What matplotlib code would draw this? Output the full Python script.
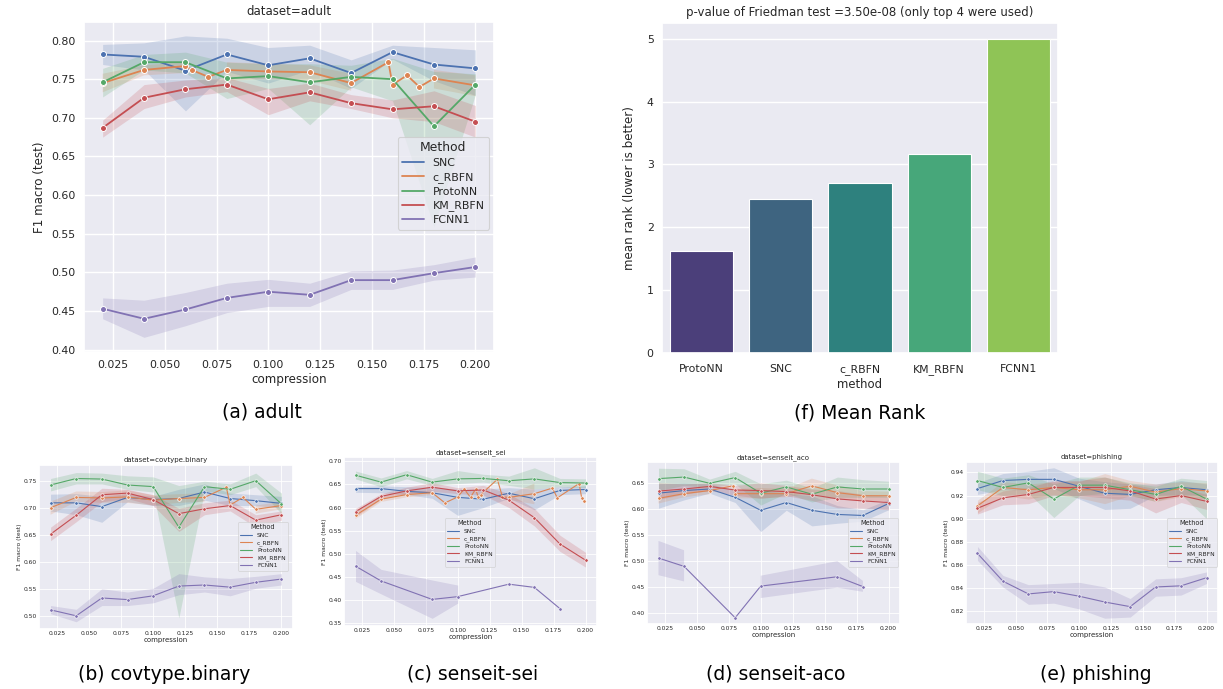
import numpy as np
import matplotlib
matplotlib.use("Agg")
import matplotlib.pyplot as plt
from matplotlib.lines import Line2D
import seaborn as sns

sns.set_theme(style="darkgrid")
plt.rcParams['font.family'] = ['DejaVu Sans']

nan = float('nan')
methods = ['SNC', 'c_RBFN', 'ProtoNN', 'KM_RBFN', 'FCNN1']
X = [0.02, 0.04, 0.06, 0.08, 0.10, 0.12, 0.14, 0.16, 0.18, 0.20]

# ---------------- adult ----------------
adult_snc = [0.782, 0.779, 0.761, 0.782, 0.768, 0.777, 0.758, 0.785, 0.769, 0.764]
adult_snc_lo = [0.769, 0.762, 0.709, 0.760, 0.745, 0.762, 0.738, 0.776, 0.748, 0.729]
adult_snc_hi = [0.795, 0.797, 0.806, 0.803, 0.791, 0.794, 0.775, 0.794, 0.791, 0.788]
adult_crbfn_x = [0.02, 0.04, 0.06, 0.063, 0.071, 0.08, 0.10, 0.12, 0.14, 0.158, 0.16, 0.167, 0.173, 0.18, 0.20]
adult_crbfn = [0.745, 0.762, 0.767, 0.762, 0.753, 0.762, 0.760, 0.759, 0.745, 0.772, 0.743, 0.755, 0.740, 0.751, 0.742]
adult_crbfn_lo = [0.733, 0.755, 0.758, nan, nan, 0.748, 0.750, 0.748, 0.735, nan, nan, nan, nan, 0.738, 0.728]
adult_crbfn_hi = [0.757, 0.768, 0.772, nan, nan, 0.772, 0.770, 0.768, 0.757, nan, nan, nan, nan, 0.762, 0.755]
adult_proto = [0.746, 0.772, 0.772, 0.751, 0.754, 0.746, 0.753, 0.750, 0.689, 0.743]
adult_proto_lo = [0.727, 0.762, 0.758, 0.725, 0.738, 0.691, 0.740, 0.722, 0.559, 0.730]
adult_proto_hi = [0.764, 0.782, 0.785, 0.772, 0.770, 0.770, 0.768, 0.777, 0.760, 0.757]
adult_km = [0.687, 0.726, 0.737, 0.743, 0.724, 0.733, 0.719, 0.711, 0.715, 0.695]
adult_km_lo = [0.675, 0.712, 0.727, 0.734, 0.704, 0.722, 0.712, 0.700, 0.695, 0.675]
adult_km_hi = [0.697, 0.743, 0.749, 0.752, 0.738, 0.745, 0.730, 0.723, 0.735, 0.716]
adult_fcnn = [0.453, 0.440, 0.452, 0.467, 0.475, 0.471, 0.490, 0.490, 0.499, 0.507]
adult_fcnn_lo = [0.440, 0.416, 0.431, 0.448, 0.456, 0.456, 0.478, 0.478, 0.490, 0.494]
adult_fcnn_hi = [0.467, 0.464, 0.474, 0.486, 0.491, 0.486, 0.502, 0.503, 0.510, 0.520]

# ---------------- covtype.binary ----------------
cov_snc = [0.710, 0.710, 0.703, 0.720, 0.716, 0.718, 0.730, 0.718, 0.714, 0.709]
cov_snc_lo = [0.695, 0.688, 0.674, 0.712, 0.705, 0.705, 0.715, 0.705, 0.705, 0.700]
cov_snc_hi = [0.726, 0.727, 0.722, 0.727, 0.722, 0.735, 0.745, 0.728, 0.725, 0.722]
cov_crbfn_x = [0.02, 0.04, 0.06, 0.08, 0.10, 0.12, 0.14, 0.157, 0.16, 0.17, 0.18, 0.20]
cov_crbfn = [0.701, 0.720, 0.719, 0.721, 0.715, 0.718, 0.720, 0.739, 0.706, 0.720, 0.698, 0.705]
cov_crbfn_lo = [0.688, 0.712, 0.710, 0.710, 0.705, 0.710, 0.712, nan, nan, nan, 0.690, 0.698]
cov_crbfn_hi = [0.712, 0.731, 0.730, 0.733, 0.724, 0.726, 0.728, nan, nan, nan, 0.705, 0.712]
cov_proto = [0.743, 0.755, 0.754, 0.743, 0.740, 0.665, 0.740, 0.735, 0.751, 0.708]
cov_proto_lo = [0.732, 0.745, 0.745, 0.735, 0.730, 0.497, 0.732, 0.725, 0.740, 0.690]
cov_proto_hi = [0.755, 0.766, 0.765, 0.760, 0.758, 0.742, 0.750, 0.745, 0.765, 0.728]
cov_km = [0.652, 0.687, 0.725, 0.728, 0.716, 0.690, 0.699, 0.705, 0.678, 0.688]
cov_km_lo = [0.640, 0.675, 0.712, 0.718, 0.705, 0.657, 0.688, 0.695, 0.665, 0.678]
cov_km_hi = [0.665, 0.700, 0.737, 0.735, 0.725, 0.700, 0.710, 0.715, 0.688, 0.695]
cov_fcnn = [0.512, 0.501, 0.534, 0.531, 0.538, 0.556, 0.558, 0.554, 0.563, 0.569]
cov_fcnn_lo = [0.505, 0.490, 0.520, 0.520, 0.525, 0.540, 0.545, 0.538, 0.552, 0.558]
cov_fcnn_hi = [0.520, 0.513, 0.551, 0.545, 0.552, 0.579, 0.573, 0.570, 0.574, 0.579]

# ---------------- senseit_sei ----------------
sei_snc = [0.641, 0.641, 0.635, 0.632, 0.622, 0.618, 0.631, 0.619, 0.637, 0.639]
sei_snc_lo = [0.633, 0.632, 0.628, 0.620, 0.583, 0.600, 0.620, 0.595, 0.628, 0.630]
sei_snc_hi = [0.645, 0.647, 0.645, 0.644, 0.640, 0.640, 0.643, 0.640, 0.645, 0.647]
sei_crbfn_x = [0.02, 0.04, 0.06, 0.08, 0.09, 0.10, 0.105, 0.11, 0.114, 0.116, 0.118,
               0.131, 0.135, 0.14, 0.16, 0.174, 0.178, 0.195, 0.197, 0.199]
sei_crbfn = [0.583, 0.618, 0.628, 0.632, 0.610, 0.623, 0.640, 0.622, 0.640, 0.623, 0.628,
             0.661, 0.623, 0.622, 0.630, 0.642, 0.621, 0.652, 0.621, 0.615]
sei_crbfn_lo = [0.575, 0.612, 0.622, 0.627, nan, nan, nan, nan, nan, nan, nan,
                nan, nan, 0.617, 0.607, nan, nan, nan, nan, nan]
sei_crbfn_hi = [0.592, 0.625, 0.634, 0.637, nan, nan, nan, nan, nan, nan, nan,
                nan, nan, 0.628, 0.652, nan, nan, nan, nan, nan]
sei_proto = [0.670, 0.655, 0.671, 0.655, 0.662, 0.663, 0.658, 0.662, 0.654, 0.653]
sei_proto_lo = [0.662, 0.645, 0.662, 0.648, 0.652, 0.655, 0.648, 0.640, 0.645, 0.643]
sei_proto_hi = [0.679, 0.664, 0.680, 0.663, 0.680, 0.672, 0.668, 0.686, 0.663, 0.662]
sei_km = [0.591, 0.624, 0.636, 0.644, 0.636, 0.638, 0.616, 0.578, 0.521, 0.486]
sei_km_lo = [0.580, 0.618, 0.630, 0.635, 0.630, 0.627, 0.600, 0.560, 0.505, 0.471]
sei_km_hi = [0.598, 0.630, 0.644, 0.654, 0.643, 0.648, 0.630, 0.598, 0.540, 0.503]
sei_fcnn_x = [0.02, 0.04, 0.08, 0.10, 0.14, 0.16, 0.18]
sei_fcnn = [0.473, 0.441, 0.401, 0.407, 0.434, 0.427, 0.381]
sei_fcnn_lo = [0.440, 0.413, 0.360, 0.393, nan, nan, nan]
sei_fcnn_hi = [0.507, 0.466, 0.443, 0.432, nan, nan, nan]

# ---------------- senseit_aco ----------------
aco_snc = [0.630, 0.635, 0.638, 0.622, 0.597, 0.612, 0.597, 0.589, 0.587, 0.610]
aco_snc_lo = [0.601, 0.617, 0.630, 0.612, 0.556, 0.597, 0.567, 0.572, 0.576, 0.598]
aco_snc_hi = [0.648, 0.650, 0.648, 0.636, 0.635, 0.630, 0.625, 0.606, 0.598, 0.618]
aco_crbfn_x = [0.02, 0.04, 0.06, 0.078, 0.08, 0.10, 0.12, 0.14, 0.16, 0.18, 0.20]
aco_crbfn = [0.620, 0.629, 0.635, 0.644, 0.629, 0.629, 0.629, 0.644, 0.631, 0.625, 0.625]
aco_crbfn_lo = [0.610, 0.622, 0.628, nan, 0.620, 0.620, 0.622, 0.630, 0.618, 0.615, 0.615]
aco_crbfn_hi = [0.632, 0.637, 0.642, nan, 0.638, 0.640, 0.638, 0.658, 0.645, 0.634, 0.633]
aco_proto = [0.658, 0.661, 0.649, 0.660, 0.630, 0.642, 0.628, 0.642, 0.638, 0.638]
aco_proto_lo = [0.635, 0.645, 0.641, 0.648, 0.607, 0.630, 0.613, 0.622, 0.622, 0.622]
aco_proto_hi = [0.678, 0.677, 0.657, 0.672, 0.648, 0.655, 0.640, 0.661, 0.656, 0.653]
aco_km = [0.634, 0.638, 0.643, 0.636, 0.635, 0.633, 0.627, 0.619, 0.615, 0.612]
aco_km_lo = [0.618, 0.628, 0.635, 0.626, 0.620, 0.625, 0.616, 0.602, 0.601, 0.598]
aco_km_hi = [0.650, 0.648, 0.650, 0.645, 0.650, 0.645, 0.638, 0.635, 0.628, 0.624]
aco_fcnn_x = [0.02, 0.04, 0.08, 0.10, 0.16, 0.18]
aco_fcnn = [0.505, 0.489, 0.390, 0.451, 0.469, 0.450]
aco_fcnn_lo = [0.472, 0.460, nan, 0.428, 0.448, 0.440]
aco_fcnn_hi = [0.538, 0.520, nan, 0.471, 0.499, 0.461]

# ---------------- phishing ----------------
phi_snc = [0.926, 0.933, 0.934, 0.934, 0.928, 0.922, 0.921, 0.925, 0.927, 0.925]
phi_snc_lo = [0.921, 0.925, 0.925, 0.926, 0.917, 0.908, 0.909, 0.920, 0.921, 0.920]
phi_snc_hi = [0.931, 0.939, 0.941, 0.944, 0.935, 0.932, 0.930, 0.930, 0.933, 0.930]
phi_crbfn = [0.911, 0.927, 0.925, 0.927, 0.925, 0.925, 0.928, 0.923, 0.926, 0.924]
phi_crbfn_lo = [0.905, 0.920, 0.917, 0.921, 0.918, 0.913, 0.920, 0.915, 0.919, 0.917]
phi_crbfn_hi = [0.916, 0.932, 0.930, 0.932, 0.932, 0.939, 0.933, 0.930, 0.932, 0.931]
phi_proto = [0.933, 0.927, 0.931, 0.917, 0.929, 0.929, 0.925, 0.921, 0.928, 0.917]
phi_proto_lo = [0.925, 0.920, 0.922, 0.901, 0.920, 0.922, 0.920, 0.915, 0.921, 0.900]
phi_proto_hi = [0.941, 0.935, 0.938, 0.930, 0.936, 0.936, 0.931, 0.928, 0.935, 0.933]
phi_km = [0.909, 0.918, 0.921, 0.927, 0.927, 0.927, 0.924, 0.917, 0.920, 0.915]
phi_km_lo = [0.904, 0.912, 0.913, 0.920, 0.920, 0.918, 0.916, 0.905, 0.914, 0.908]
phi_km_hi = [0.914, 0.924, 0.927, 0.933, 0.933, 0.936, 0.930, 0.926, 0.927, 0.921]
phi_fcnn = [0.870, 0.846, 0.835, 0.837, 0.833, 0.828, 0.824, 0.841, 0.842, 0.849]
phi_fcnn_lo = [0.864, 0.841, 0.826, 0.827, 0.822, 0.814, 0.815, 0.833, 0.834, 0.844]
phi_fcnn_hi = [0.876, 0.851, 0.843, 0.844, 0.845, 0.841, 0.831, 0.848, 0.849, 0.854]

# ---------------- mean rank ----------------
rank_methods = ['ProtoNN', 'SNC', 'c_RBFN', 'KM_RBFN', 'FCNN1']
rank_values = [1.62, 2.45, 2.71, 3.17, 5.00]
rank_colors = ['#4b3f7a', '#3e6480', '#2e817e', '#47a77a', '#8fc456']

colors = {'SNC': '#4c72b0', 'c_RBFN': '#dd8452', 'ProtoNN': '#55a868',
          'KM_RBFN': '#c44e52', 'FCNN1': '#8172b3'}

W, H = 1223, 689
fig = plt.figure(figsize=(W / 100, H / 100), dpi=100)


def ax_px(l, t, r, b):
    return fig.add_axes([l / W, 1 - b / H, (r - l) / W, (b - t) / H])


def draw_panel(ax, series, title, ylim, yticks, small, leg_anchor, leg_loc):
    if small:
        lw, ms, mew, fs, tfs, gl = 0.8, 2.5, 0.45, 4.3, 5.0, 0.6
    else:
        lw, ms, mew, fs, tfs, gl = 1.3, 4.3, 0.7, 7.9, 8.5, 1.0
    for name, x, y, lo, hi in series:
        c = colors[name]
        ax.fill_between(np.array(x), np.array(lo), np.array(hi), color=c, alpha=0.2, linewidth=0)
        ax.plot(x, y, color=c, lw=lw, marker='o', ms=ms, mec='white', mew=mew)
    ax.set_xlim(0.011, 0.209)
    ax.set_ylim(*ylim)
    ax.set_yticks(yticks)
    ax.set_yticklabels(['%.2f' % v for v in yticks])
    xt = [0.025, 0.05, 0.075, 0.1, 0.125, 0.15, 0.175, 0.2]
    ax.set_xticks(xt)
    ax.set_xticklabels(['%.3f' % v for v in xt])
    ax.tick_params(labelsize=fs, length=0, pad=1.5 if small else 6, colors='#262626')
    ax.grid(True, color='white', linewidth=gl)
    ax.set_title(title, fontsize=tfs, pad=2 if small else 5, color='#262626')
    ax.set_xlabel('compression', fontsize=tfs if small else 8.6, labelpad=1 if small else 2,
                  color='#262626')
    ax.set_ylabel('F1 macro (test)', fontsize=fs if small else 8.6, labelpad=1 if small else 4,
                  color='#262626')
    handles = [Line2D([], [], color=colors[m], lw=lw) for m in methods]
    leg = ax.legend(handles, methods, title='Method', loc=leg_loc, bbox_to_anchor=leg_anchor,
                    borderaxespad=0, fontsize=fs, title_fontsize=fs + (0.4 if small else 1.0),
                    handlelength=2.0, labelspacing=0.35,
                    borderpad=0.4, framealpha=0.8, edgecolor='#cccccc')
    leg.get_frame().set_linewidth(0.5 if small else 0.8)


# (a) adult
axa = ax_px(84, 22, 494, 352)
draw_panel(axa, [
    ('SNC', X, adult_snc, adult_snc_lo, adult_snc_hi),
    ('c_RBFN', adult_crbfn_x, adult_crbfn, adult_crbfn_lo, adult_crbfn_hi),
    ('ProtoNN', X, adult_proto, adult_proto_lo, adult_proto_hi),
    ('KM_RBFN', X, adult_km, adult_km_lo, adult_km_hi),
    ('FCNN1', X, adult_fcnn, adult_fcnn_lo, adult_fcnn_hi),
], 'dataset=adult', (0.397, 0.824), [0.40, 0.45, 0.50, 0.55, 0.60, 0.65, 0.70, 0.75, 0.80],
    False, (0.988, 0.652), 'upper right')

# (b) covtype
axb = ax_px(39, 465, 293, 629)
draw_panel(axb, [
    ('SNC', X, cov_snc, cov_snc_lo, cov_snc_hi),
    ('c_RBFN', cov_crbfn_x, cov_crbfn, cov_crbfn_lo, cov_crbfn_hi),
    ('ProtoNN', X, cov_proto, cov_proto_lo, cov_proto_hi),
    ('KM_RBFN', X, cov_km, cov_km_lo, cov_km_hi),
    ('FCNN1', X, cov_fcnn, cov_fcnn_lo, cov_fcnn_hi),
], 'dataset=covtype.binary', (0.4766, 0.780), [0.50, 0.55, 0.60, 0.65, 0.70, 0.75],
    True, (0.980, 0.652), 'upper right')

# (c) senseit_sei
axc = ax_px(344, 457, 597, 626)
draw_panel(axc, [
    ('SNC', X, sei_snc, sei_snc_lo, sei_snc_hi),
    ('c_RBFN', sei_crbfn_x, sei_crbfn, sei_crbfn_lo, sei_crbfn_hi),
    ('ProtoNN', X, sei_proto, sei_proto_lo, sei_proto_hi),
    ('KM_RBFN', X, sei_km, sei_km_lo, sei_km_hi),
    ('FCNN1', sei_fcnn_x, sei_fcnn, sei_fcnn_lo, sei_fcnn_hi),
], 'dataset=senseit_sei', (0.3434, 0.7094), [0.35, 0.40, 0.45, 0.50, 0.55, 0.60, 0.65, 0.70],
    True, (0.498, 0.639), 'upper center')

# (d) senseit_aco
axd = ax_px(647, 462, 900, 624)
draw_panel(axd, [
    ('SNC', X, aco_snc, aco_snc_lo, aco_snc_hi),
    ('c_RBFN', aco_crbfn_x, aco_crbfn, aco_crbfn_lo, aco_crbfn_hi),
    ('ProtoNN', X, aco_proto, aco_proto_lo, aco_proto_hi),
    ('KM_RBFN', X, aco_km, aco_km_lo, aco_km_hi),
    ('FCNN1', aco_fcnn_x, aco_fcnn, aco_fcnn_lo, aco_fcnn_hi),
], 'dataset=senseit_aco', (0.378, 0.690), [0.40, 0.45, 0.50, 0.55, 0.60, 0.65],
    True, (0.992, 0.654), 'upper right')

# (e) phishing
axe = ax_px(966, 462, 1218, 624)
draw_panel(axe, [
    ('SNC', X, phi_snc, phi_snc_lo, phi_snc_hi),
    ('c_RBFN', X, phi_crbfn, phi_crbfn_lo, phi_crbfn_hi),
    ('ProtoNN', X, phi_proto, phi_proto_lo, phi_proto_hi),
    ('KM_RBFN', X, phi_km, phi_km_lo, phi_km_hi),
    ('FCNN1', X, phi_fcnn, phi_fcnn_lo, phi_fcnn_hi),
], 'dataset=phishing', (0.809, 0.949), [0.82, 0.84, 0.86, 0.88, 0.90, 0.92, 0.94],
    True, (0.996, 0.654), 'upper right')

# (f) mean rank
axf = ax_px(662, 23, 1058, 353)
pos = np.arange(len(rank_methods))
axf.bar(pos, rank_values, width=0.8, color=rank_colors, edgecolor='white', linewidth=0.8)
axf.set_xlim(-0.5, len(rank_methods) - 0.5)
axf.set_ylim(0, 5.25)
axf.set_xticks(pos)
axf.set_xticklabels(rank_methods)
axf.set_yticks([0, 1, 2, 3, 4, 5])
axf.grid(True, axis='y', color='white', linewidth=1.0)
axf.grid(False, axis='x')
axf.tick_params(axis='x', labelsize=7.8, length=0, pad=8, colors='#262626')
axf.tick_params(axis='y', labelsize=7.8, length=0, pad=6, colors='#262626')
axf.set_xlabel('method', fontsize=8.4, labelpad=2.5, color='#262626')
axf.set_ylabel('mean rank (lower is better)', fontsize=8.6, labelpad=8, color='#262626')
axf.set_title('p-value of Friedman test =3.50e-08 (only top 4 were used)', fontsize=8.5,
              pad=5, color='#262626')

# captions
captions = [('(a) adult', 262, 412), ('(f) Mean Rank', 860, 413),
            ('(b) covtype.binary', 164, 674), ('(c) senseit-sei', 473, 674),
            ('(d) senseit-aco', 776, 674), ('(e) phishing', 1096, 675)]
for txt, cx, cy in captions:
    fig.text(cx / W, 1 - cy / H, txt, ha='center', va='center', fontsize=13.5, color='black')

fig.savefig('out.png', dpi=100, facecolor='white')
